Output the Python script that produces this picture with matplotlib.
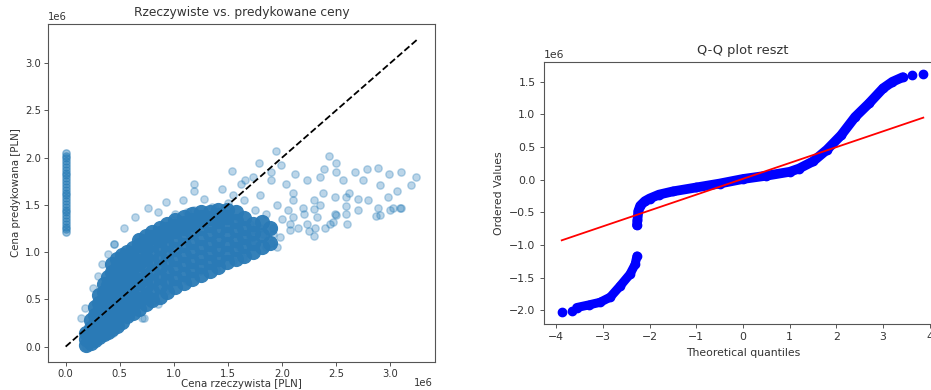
import numpy as np
import matplotlib
matplotlib.use("Agg")
import matplotlib.pyplot as plt

# ---- data (prices in millions of PLN) ----
# listings with actual price ~0 but a normal prediction
zero_pred = [1.21, 1.24, 1.27, 1.30, 1.33, 1.36, 1.39, 1.42, 1.45, 1.48,
             1.51, 1.54, 1.57, 1.60, 1.63, 1.66, 1.69, 1.72, 1.75, 1.78,
             1.81, 1.84, 1.87, 1.90, 1.93, 1.96, 1.99, 2.02, 2.05]

# dense core of the cloud, by actual-price column
dense_cols = [0.19, 0.23, 0.27, 0.31, 0.35, 0.39, 0.43, 0.47, 0.52, 0.57,
              0.62, 0.68, 0.74, 0.80, 0.87, 0.94, 1.01, 1.09, 1.17, 1.25,
              1.33, 1.41, 1.49, 1.57, 1.65, 1.73, 1.81, 1.89]
dense_rows = [
    [0.02, 0.08, 0.14],
    [0.04, 0.12, 0.20, 0.28],
    [0.07, 0.15, 0.24, 0.33, 0.42],
    [0.10, 0.19, 0.28, 0.37, 0.46, 0.55],
    [0.13, 0.22, 0.31, 0.40, 0.49, 0.58, 0.66],
    [0.16, 0.25, 0.35, 0.45, 0.55, 0.65, 0.74],
    [0.19, 0.29, 0.39, 0.49, 0.59, 0.69, 0.79, 0.87],
    [0.22, 0.32, 0.43, 0.53, 0.63, 0.73, 0.83, 0.93],
    [0.26, 0.36, 0.47, 0.57, 0.67, 0.77, 0.87, 0.97],
    [0.32, 0.40, 0.50, 0.60, 0.70, 0.80, 0.90, 1.00],
    [0.36, 0.44, 0.54, 0.64, 0.74, 0.84, 0.94, 1.04],
    [0.40, 0.48, 0.58, 0.68, 0.78, 0.88, 0.98, 1.07, 1.13],
    [0.45, 0.54, 0.64, 0.74, 0.84, 0.94, 1.04, 1.12, 1.17],
    [0.49, 0.59, 0.69, 0.79, 0.89, 0.99, 1.09, 1.16, 1.21],
    [0.53, 0.64, 0.74, 0.84, 0.94, 1.04, 1.13, 1.20, 1.26],
    [0.58, 0.69, 0.79, 0.89, 0.99, 1.09, 1.18, 1.24, 1.30],
    [0.63, 0.73, 0.83, 0.93, 1.03, 1.13, 1.22, 1.28, 1.34],
    [0.67, 0.77, 0.87, 0.97, 1.07, 1.17, 1.26, 1.31, 1.37],
    [0.72, 0.81, 0.91, 1.01, 1.11, 1.21, 1.30, 1.34, 1.40],
    [0.76, 0.85, 0.95, 1.05, 1.15, 1.25, 1.33, 1.37, 1.42],
    [0.80, 0.89, 0.99, 1.09, 1.19, 1.29, 1.36, 1.42],
    [0.84, 0.93, 1.03, 1.13, 1.23, 1.33, 1.39, 1.44],
    [0.89, 0.99, 1.09, 1.19, 1.29, 1.37, 1.44],
    [0.93, 1.03, 1.13, 1.23, 1.33, 1.42],
    [0.96, 1.06, 1.16, 1.26, 1.36],
    [1.00, 1.10, 1.20, 1.30],
    [1.05, 1.18, 1.32],
    [1.10, 1.25],
]

# sparse points around the core and in the high-price tail
sparse_actual = [1.94, 2.43, 2.50, 1.79, 1.99, 2.39, 2.78, 2.89, 2.67, 2.99,
                 3.10, 3.24, 3.19, 2.12, 2.23, 2.35, 2.50, 2.56, 2.75, 2.90,
                 3.06, 2.98, 2.79, 2.89, 3.09, 3.00, 2.87, 2.70, 2.59, 2.49,
                 2.49, 2.59, 2.38, 2.29, 2.44, 2.32, 2.19, 2.10, 2.04, 1.90,
                 1.90, 1.73, 1.66, 2.23, 2.10, 2.30, 2.07, 1.92, 1.98, 1.82,
                 1.73, 2.29, 2.50, 2.47, 2.90, 3.02, 3.10, 2.59, 2.29, 2.07,
                 1.95, 1.92, 1.73, 1.64, 1.55, 1.39, 1.24, 1.12, 0.93, 0.81,
                 0.72, 0.59, 0.44, 0.29, 0.19, 0.14, 0.18, 0.25, 0.30, 0.39,
                 0.45, 0.34, 0.71, 0.79, 0.85, 1.54, 1.19, 1.19, 1.44, 1.62,
                 1.08, 0.93, 0.76, 0.85, 0.64, 0.54, 0.45, 0.67, 1.28, 1.38,
                 1.01, 1.19, 1.60, 1.70, 1.80, 1.85, 1.75, 1.90, 2.00, 1.95,
                 2.05, 2.15, 2.10, 1.65, 1.80, 1.55, 1.60, 1.70, 1.85, 2.20,
                 2.35, 2.40, 2.60, 2.70, 1.50, 1.35, 0.98, 1.12, 2.25, 2.62]
sparse_pred = [2.07, 2.02, 1.94, 1.94, 1.92, 1.88, 1.88, 1.89, 1.85, 1.83,
               1.85, 1.79, 1.71, 1.83, 1.76, 1.79, 1.85, 1.76, 1.76, 1.71,
               1.65, 1.58, 1.55, 1.47, 1.47, 1.44, 1.38, 1.56, 1.58, 1.58,
               1.40, 1.40, 1.62, 1.55, 1.30, 1.37, 1.47, 1.62, 1.72, 1.76,
               1.85, 1.79, 1.76, 1.30, 1.37, 1.26, 1.23, 1.26, 1.16, 1.19,
               1.09, 1.17, 1.39, 1.32, 1.39, 1.47, 1.47, 1.49, 1.46, 1.30,
               1.05, 1.19, 1.23, 0.94, 0.91, 0.82, 0.80, 0.69, 0.59, 0.48,
               0.30, 0.39, 0.14, 0.09, 0.00, 0.30, 0.41, 0.62, 0.75, 0.98,
               1.09, 0.87, 0.30, 0.46, 0.45, 1.86, 1.72, 1.65, 1.67, 1.72,
               1.55, 1.53, 1.47, 1.42, 1.37, 1.26, 1.09, 1.16, 1.56, 1.47,
               1.40, 1.44, 1.35, 1.30, 1.25, 1.40, 1.45, 1.10, 1.35, 1.50,
               1.45, 1.25, 1.55, 1.55, 1.60, 1.60, 1.05, 1.15, 1.05, 1.40,
               1.50, 1.25, 1.30, 1.45, 1.52, 1.48, 1.34, 1.42, 1.22, 1.62]

ideal_line = [0.0, 3.25]

# Q-Q plot of residuals (theoretical quantile, ordered value in 1e6)
qq_low_x = [-3.88, -3.65, -3.56, -3.30, -3.06, -2.84, -2.63, -2.42, -2.31, -2.27]
qq_low_y = [-2.03, -2.02, -1.96, -1.92, -1.88, -1.80, -1.63, -1.45, -1.30, -1.17]
qq_high_x = [-2.27, -2.26, -2.24, -2.20, -2.10, -2.00, -1.80, -1.50, -1.00, -0.50,
             0.00, 0.50, 1.00, 1.20, 1.50, 1.80, 2.10, 2.40, 2.70, 3.00,
             3.20, 3.42, 3.61, 3.86]
qq_high_y = [-0.70, -0.62, -0.48, -0.40, -0.33, -0.29, -0.23, -0.18, -0.12, -0.06,
             0.01, 0.06, 0.12, 0.17, 0.28, 0.46, 0.68, 0.96, 1.17, 1.40,
             1.50, 1.57, 1.60, 1.62]
qq_fit_x = [-3.88, 3.86]
qq_fit_y = [-0.93, 0.95]

M = 1e6
TXT = '#333333'
SPINE = '#555555'
C0 = '#1f77b4'


def style_axes(ax, fs):
    for sp in ax.spines.values():
        sp.set_color(SPINE)
        sp.set_linewidth(0.8)
    ax.tick_params(labelsize=fs, colors=SPINE, labelcolor=TXT, length=2.6, width=0.7, pad=2.5)
    for t in (ax.xaxis.get_offset_text(), ax.yaxis.get_offset_text()):
        t.set_fontsize(fs)
        t.set_color(TXT)


fig = plt.figure(figsize=(9.31, 3.9), dpi=100)

# ---- left: actual vs predicted ----
ax1 = fig.add_axes([0.0516, 0.0718, 0.4157, 0.8667])
dense_x = [c for c, row in zip(dense_cols, dense_rows) for _ in row]
dense_y = [v for row in dense_rows for v in row]
ax1.scatter(np.array(sparse_actual) * M, np.array(sparse_pred) * M, s=28, alpha=0.3, color=C0)
ax1.scatter(np.array(dense_x) * M, np.array(dense_y) * M, s=120, alpha=0.95, color='#2a7ab6',
            linewidths=0)
ax1.scatter(np.zeros(len(zero_pred)), np.array(zero_pred) * M, s=28, alpha=0.45, color=C0)
ax1.plot(np.array(ideal_line) * M, np.array(ideal_line) * M, 'k--', lw=1.3)
ax1.set_title('Rzeczywiste vs. predykowane ceny', fontsize=8.8, color=TXT)
ax1.set_xlabel('Cena rzeczywista [PLN]', fontsize=7.4, color=TXT, labelpad=0)
ax1.set_ylabel('Cena predykowana [PLN]', fontsize=7.4, color=TXT, labelpad=3)
ax1.set_xticks(np.arange(0, 3.01, 0.5) * M)
ax1.set_yticks(np.arange(0, 3.01, 0.5) * M)
style_axes(ax1, 7.2)
# x offset label placed by hand so it stays inside the figure
ax1.xaxis.get_offset_text().set_visible(False)
ax1.text(0.995, -0.062, '1e6', transform=ax1.transAxes, ha='right', va='center',
         fontsize=7.2, color=TXT)

# ---- right: Q-Q plot ----
ax2 = fig.add_axes([0.5843, 0.1692, 0.4275, 0.6718])
ax2.plot(np.array(qq_low_x[2:]), np.array(qq_low_y[2:]) * M, '-', color='blue', lw=6.5,
         solid_capstyle='round')
ax2.plot(np.array(qq_high_x[:-2]), np.array(qq_high_y[:-2]) * M, '-', color='blue', lw=7,
         solid_capstyle='round')
ax2.plot(np.array(qq_low_x + qq_high_x), np.array(qq_low_y + qq_high_y) * M, 'o',
         color='blue', ms=6)
ax2.plot(qq_fit_x, np.array(qq_fit_y) * M, 'r-', lw=1.3)
ax2.set_xlim(-4.26, 4.26)
ax2.set_title('Q-Q plot reszt', fontsize=9.4, color=TXT)
ax2.set_xlabel('Theoretical quantiles', fontsize=7.8, color=TXT)
ax2.set_ylabel('Ordered Values', fontsize=7.8, color=TXT)
ax2.set_xticks(np.arange(-4, 4.1, 1))
ax2.set_yticks(np.arange(-2.0, 1.51, 0.5) * M)
style_axes(ax2, 7.8)
ax2.tick_params(pad=3.5)

fig.savefig('out.png', dpi=100, facecolor='white')
